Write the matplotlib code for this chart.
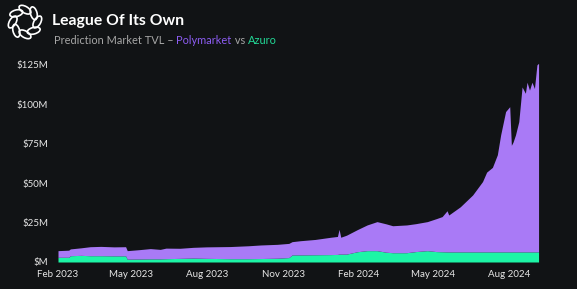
import numpy as np
import pandas as pd
import matplotlib
matplotlib.use("Agg")
import matplotlib.pyplot as plt
import matplotlib.dates as mdates
from matplotlib.patches import Ellipse
from matplotlib.ticker import FuncFormatter

# TVL in $M
dates = ["2023-02-01", "2023-02-14", "2023-02-16", "2023-03-01", "2023-03-12", "2023-03-25",
         "2023-04-10", "2023-04-24", "2023-04-26", "2023-05-10", "2023-05-24", "2023-06-05",
         "2023-06-12", "2023-06-29", "2023-07-15", "2023-07-31", "2023-08-29", "2023-09-20",
         "2023-10-05", "2023-10-25", "2023-11-08", "2023-11-12", "2023-11-22", "2023-12-10",
         "2023-12-29", "2024-01-06", "2024-01-08", "2024-01-10", "2024-01-17", "2024-01-30",
         "2024-02-11", "2024-02-23", "2024-03-05", "2024-03-13", "2024-03-30", "2024-04-10",
         "2024-04-24", "2024-05-05", "2024-05-12", "2024-05-18", "2024-05-20", "2024-06-03",
         "2024-06-18", "2024-06-30", "2024-07-05", "2024-07-12", "2024-07-18", "2024-07-22",
         "2024-07-28", "2024-08-02", "2024-08-04", "2024-08-06", "2024-08-09", "2024-08-13",
         "2024-08-17", "2024-08-21", "2024-08-23", "2024-08-26", "2024-08-29", "2024-09-01",
         "2024-09-04", "2024-09-06"]
total = [7.2, 7.5, 8.3, 9.0, 9.7, 9.9,
         9.6, 9.7, 7.2, 7.8, 8.5, 8.0,
         8.8, 8.7, 9.3, 9.6, 9.8, 10.3,
         10.8, 11.2, 11.8, 12.9, 13.5, 14.3,
         15.7, 16.2, 20.7, 15.7, 17.0, 20.5,
         23.5, 25.6, 24.2, 23.0, 23.5, 24.3,
         25.6, 27.5, 28.8, 32.5, 29.8, 35.0,
         42.5, 51.0, 57.0, 60.0, 68.0, 80.6,
         95.4, 98.5, 74.0, 76.0, 80.6, 89.0,
         111.0, 107.0, 114.0, 109.0, 114.0, 110.0,
         125.0, 126.0]
azuro = [3.0, 3.0, 4.0, 4.2, 4.0, 4.0,
         3.9, 3.9, 1.8, 1.9, 2.0, 2.0,
         2.1, 2.3, 2.5, 2.3, 2.1, 2.1,
         2.2, 2.4, 2.8, 4.5, 4.5, 4.6,
         4.7, 4.8, 5.0, 5.0, 5.0, 6.5,
         7.2, 7.2, 6.2, 5.9, 5.9, 6.6,
         7.2, 6.6, 6.5, 6.4, 6.4, 6.4,
         6.4, 6.4, 6.4, 6.4, 6.4, 6.4,
         6.4, 6.4, 6.4, 6.4, 6.4, 6.4,
         6.4, 6.4, 6.4, 6.4, 6.4, 6.4,
         6.4, 6.4]

df = pd.DataFrame({"date": pd.to_datetime(dates), "total": total, "azuro": azuro})
df["polymarket"] = df["total"] - df["azuro"]

bg = "#111315"
purple = "#a97af6"
green = "#1df5a6"

plt.rcParams["font.family"] = ["Lato", "DejaVu Sans"]

fig = plt.figure(figsize=(5.77, 2.89), dpi=100, facecolor=bg)
ax = fig.add_axes([58 / 577, 27 / 289, 502 / 577, 205 / 289], facecolor=bg)

ax.fill_between(df["date"], 0, df["azuro"], color=green, lw=0)
ax.fill_between(df["date"], df["azuro"], df["azuro"] + df["polymarket"], color=purple, lw=0)

ax.set_xlim(pd.Timestamp("2023-02-01"), pd.Timestamp("2024-10-02"))
ax.set_ylim(0, 130)
ax.set_yticks([0, 25, 50, 75, 100, 125])
ax.yaxis.set_major_formatter(FuncFormatter(lambda v, p: "$M" if v == 0 else f"${v:.0f}M"))
ax.xaxis.set_major_locator(mdates.MonthLocator(bymonth=[2, 5, 8, 11]))
ax.xaxis.set_major_formatter(mdates.DateFormatter("%b %Y"))
ax.tick_params(axis="y", length=0, pad=7, labelsize=7, labelcolor="#e6e6e6")
ax.tick_params(axis="x", length=0, pad=6, labelsize=7, labelcolor="#e6e6e6")
for s in ax.spines.values():
    s.set_visible(False)

# logo: ring of loops
logo = fig.add_axes([3 / 577, 1 - 44 / 289, 44 / 577, 44 / 289])
logo.set_xlim(-1, 1)
logo.set_ylim(-1, 1)
logo.set_aspect("equal")
logo.axis("off")
for k in range(8):
    a = 2 * np.pi * k / 8
    logo.add_patch(Ellipse((0.56 * np.cos(a), 0.56 * np.sin(a)), 0.6, 0.3,
                           angle=np.degrees(a) + 60, fill=False, ec="white", lw=1.2))

fig.text(52 / 577, 1 - 21 / 289, "League Of Its Own", color="white", fontsize=11.3,
         fontweight="bold", va="center")

# subtitle with coloured names
fig.canvas.draw()
renderer = fig.canvas.get_renderer()
x = 54 / 577
y = 1 - 41 / 289
for s, c in [("Prediction Market TVL \u2013 ", "#a6a6a6"), ("Polymarket", "#8c5cf2"),
             (" vs ", "#a6a6a6"), ("Azuro", "#22d896")]:
    t = fig.text(x, y, s, color=c, fontsize=7.9, va="center")
    bb = t.get_window_extent(renderer)
    x = bb.x1 / fig.bbox.width

fig.savefig("out.png", dpi=100, facecolor=bg)
